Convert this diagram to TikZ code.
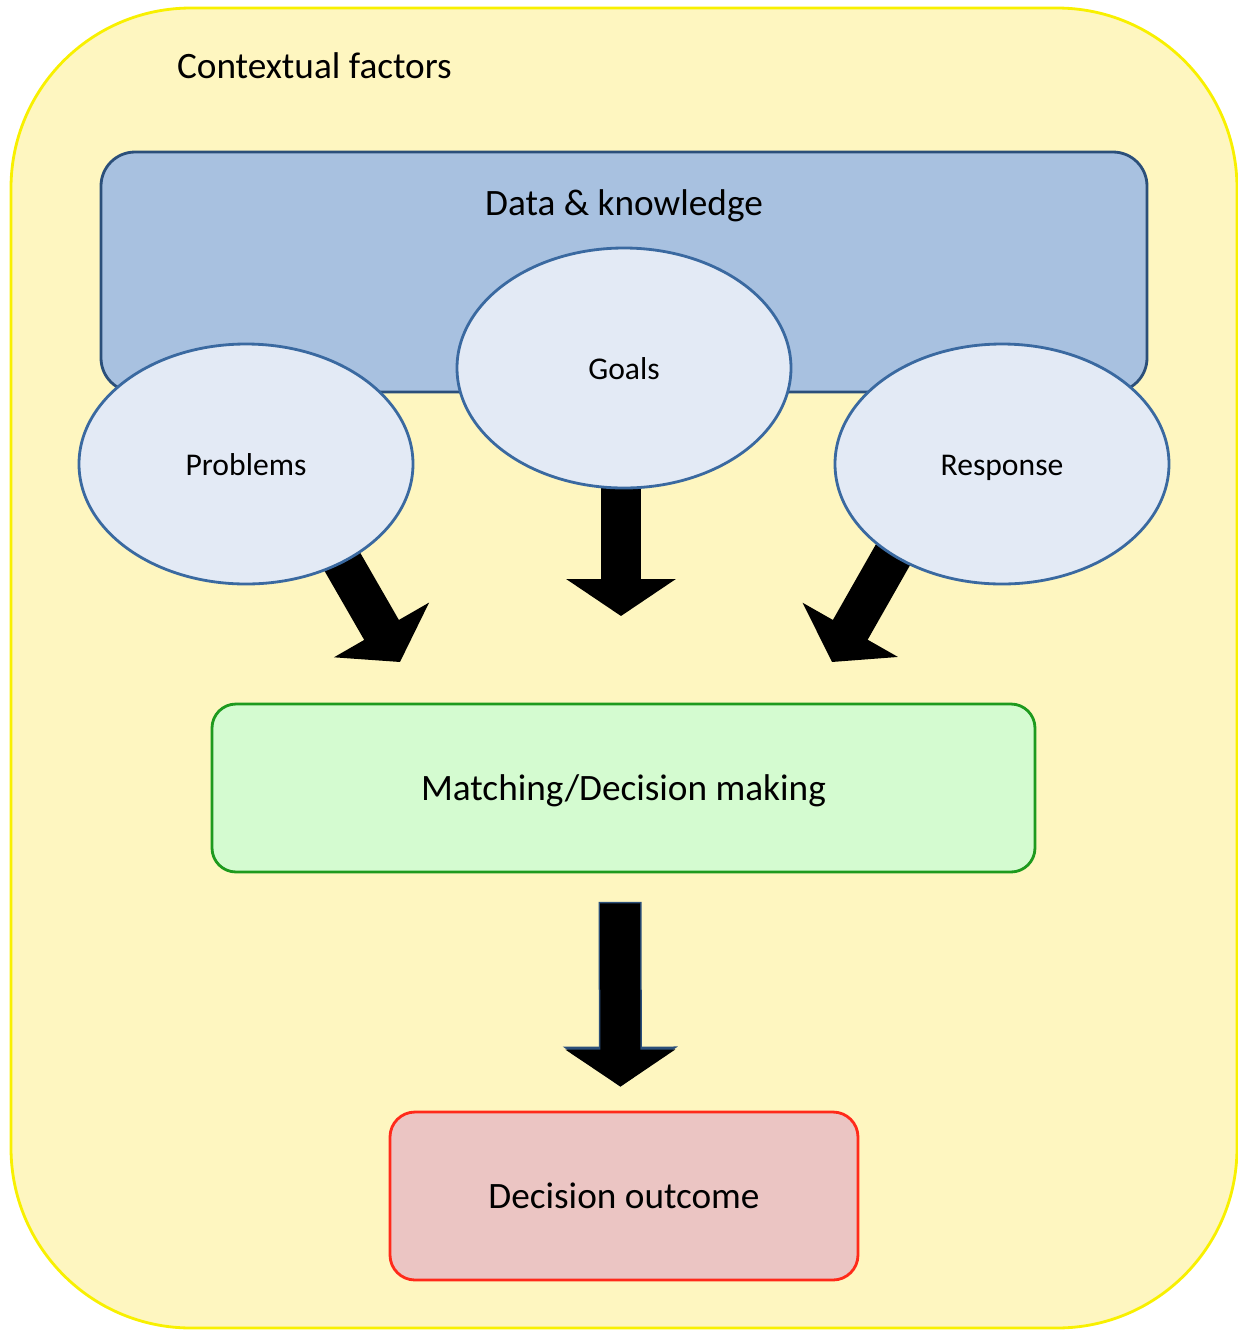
\documentclass[tikz,border=0pt]{standalone}
\usepackage{fontspec}
\setmainfont{Carlito}
\usepackage{xcolor}
\usepackage{tikz}
\usetikzlibrary{arrows.meta,positioning,calc,shapes.geometric}
\definecolor{ContextYellow}{HTML}{FEF6C0}
\definecolor{ContextEdge}{HTML}{F8F000}
\definecolor{DataBlue}{HTML}{A8C1E0}
\definecolor{DataEdge}{HTML}{2B4F7A}
\definecolor{BubbleFill}{HTML}{E3EAF5}
\definecolor{BubbleEdge}{HTML}{3A69A0}
\definecolor{MatchGreen}{HTML}{D4FBD0}
\definecolor{MatchEdge}{HTML}{1E9A1E}
\definecolor{OutcomeRed}{HTML}{EBC5C3}
\definecolor{OutcomeEdge}{HTML}{FF2A1A}
\pgfdeclarelayer{back}
\pgfdeclarelayer{mid}
\pgfsetlayers{back,mid,main}
\newcommand{\bubble}[3]{%
  \node[ellipse, draw=BubbleEdge, thick, fill=BubbleFill, minimum width=3.34cm,
        minimum height=2.40cm, inner sep=0pt, text height=0.87em, text depth=0.20em,
        font=\fontsize{9}{11}\selectfont] (#1) at (#2) {#3};}

\begin{document}
\begin{tikzpicture}[
    bigtext/.style={font=\fontsize{10.6}{13}\selectfont},
    blockarrow/.style={line width=0.40cm, -{Triangle[length=0.37cm,width=1.08cm]}},
  ]
  \useasboundingbox (0,0) rectangle (12.38,-13.30);
  \begin{pgfonlayer}{back}
    \node[draw=ContextEdge, thick, fill=ContextYellow, rounded corners=1.8cm,
          minimum width=12.26cm, minimum height=13.20cm] (context) at (6.24,-6.68) {};
    \node[bigtext, below right=0.34cm and 1.55cm of context.north west] (contexttext) {Contextual factors};
    \node[draw=DataEdge, thick, fill=DataBlue, rounded corners=0.34cm,
          minimum width=10.46cm, minimum height=2.40cm] (data) at (6.24,-2.72) {};
    \node[bigtext, below=0.27cm of data.north] (datatext) {Data \& knowledge};
  \end{pgfonlayer}
  \bubble{goals}{6.24,-3.68}{Goals}
  \bubble{problems}{2.46,-4.64}{Problems}
  \bubble{response}{10.02,-4.64}{Response}
  \node[bigtext, draw=MatchEdge, thick, fill=MatchGreen, rounded corners=0.24cm, text depth=0pt,
        minimum width=8.23cm, minimum height=1.68cm] (match) at (6.235,-7.88) {Matching/Decision making};
  \node[bigtext, draw=OutcomeEdge, thick, fill=OutcomeRed, rounded corners=0.25cm,
        minimum width=4.68cm, minimum height=1.68cm] (outcome) at (6.24,-11.96) {Decision outcome};
  \coordinate (ptip) at (4.00,-6.62);
  \coordinate (gtip) at (6.21,-6.16);
  \coordinate (rtip) at (8.32,-6.62);
  \begin{pgfonlayer}{mid}
    \draw[blockarrow] ([xshift=0.74cm,yshift=-0.59cm]problems.center) -- (ptip);
    \draw[blockarrow] (goals.center -| gtip) -- (gtip);
    \draw[blockarrow] ([xshift=-0.91cm,yshift=-0.59cm]response.center) -- (rtip);
  \end{pgfonlayer}
  \draw[blockarrow, shorten <=0.30cm, shorten >=0.24cm,
        preaction={draw=DataEdge, line width=0.43cm, shorten <=0.285cm, shorten >=0.24cm,
                   -{Triangle[length=0.40cm,width=1.13cm]}}]
    ([xshift=-0.035cm]match.south) -- ([xshift=-0.035cm]outcome.north);
\end{tikzpicture}
\end{document}
